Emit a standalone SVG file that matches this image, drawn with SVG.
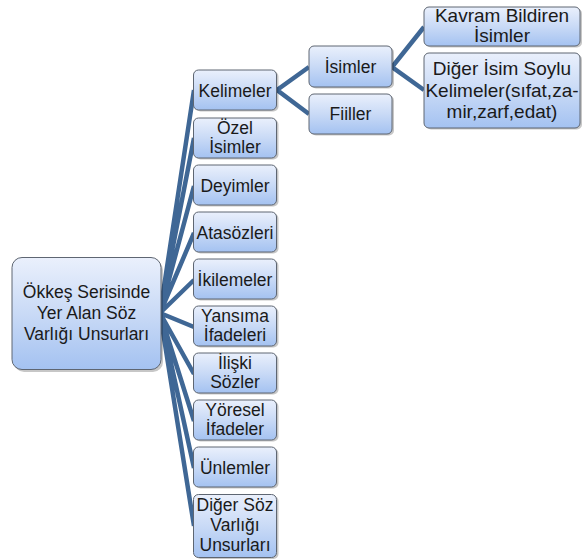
<svg xmlns="http://www.w3.org/2000/svg" width="582" height="560" viewBox="0 0 582 560">
<defs>
<linearGradient id="g" x1="0" y1="0" x2="0" y2="1">
<stop offset="0" stop-color="#EAF0FC"/>
<stop offset="0.5" stop-color="#C9DAF6"/>
<stop offset="1" stop-color="#A4C2F1"/>
</linearGradient>
<style>
.b{fill:url(#g);stroke:#5E6672;stroke-width:1}
.s{fill:#000;opacity:0.22}
.t{font-family:"Liberation Sans",Arial,sans-serif;font-size:17.5px;fill:#1a1a1a;text-anchor:middle}
.t3{font-size:19px}
.c{stroke:#3F6795;stroke-width:4.5;fill:none;stroke-linecap:butt}
</style>
</defs>
<rect width="582" height="560" fill="#fff"/>
<g id="connectors">
<path class="c" d="M160 313 L194 90 M160 313 L194 138 M160 313 L194 186 M160 313 L194 233 M160 313 L194 280 M160 313 L194 327 M160 313 L194 374 M160 313 L194 421 M160 313 L194 468 M160 313 L194 526"/>
<path class="c" d="M309 67 L277 90 L309 114"/>
<path class="c" d="M424 27 L392 67 L424 90"/>
</g>
<g id="root">
<rect class="s" x="14" y="260" width="149" height="112" rx="10"/>
<rect class="b" x="12" y="257.5" width="149" height="112" rx="10"/>
<text class="t"><tspan x="86.5" y="298">Ökkeş Serisinde</tspan><tspan x="86.5" y="319">Yer Alan Söz</tspan><tspan x="86.5" y="339.5">Varlığı Unsurları</tspan></text>
</g>
<g id="kelimeler">
<rect class="s" x="195.5" y="71.5" width="83" height="40" rx="5"/>
<rect class="b" x="193.5" y="70" width="83" height="40" rx="5"/>
<text class="t" x="235" y="96.5">Kelimeler</text>
</g>
<g id="ozel">
<rect class="s" x="195.5" y="119.5" width="83" height="40" rx="5"/>
<rect class="b" x="193.5" y="118" width="83" height="40" rx="5"/>
<text class="t"><tspan x="235" y="134">Özel</tspan><tspan x="235" y="153">İsimler</tspan></text>
</g>
<g id="deyimler">
<rect class="s" x="195.5" y="166.5" width="83" height="40" rx="5"/>
<rect class="b" x="193.5" y="165" width="83" height="40" rx="5"/>
<text class="t" x="235" y="191.5">Deyimler</text>
</g>
<g id="atasozleri">
<rect class="s" x="195.5" y="213.5" width="83" height="40" rx="5"/>
<rect class="b" x="193.5" y="212" width="83" height="40" rx="5"/>
<text class="t" x="235" y="238.5">Atasözleri</text>
</g>
<g id="ikilemeler">
<rect class="s" x="195.5" y="260.5" width="83" height="40" rx="5"/>
<rect class="b" x="193.5" y="259" width="83" height="40" rx="5"/>
<text class="t" x="235" y="285.5">İkilemeler</text>
</g>
<g id="yansima">
<rect class="s" x="195.5" y="307.5" width="83" height="40" rx="5"/>
<rect class="b" x="193.5" y="306" width="83" height="40" rx="5"/>
<text class="t"><tspan x="235" y="322">Yansıma</tspan><tspan x="235" y="341">İfadeleri</tspan></text>
</g>
<g id="iliski">
<rect class="s" x="195.5" y="354.5" width="83" height="40" rx="5"/>
<rect class="b" x="193.5" y="353" width="83" height="40" rx="5"/>
<text class="t"><tspan x="235" y="369">İlişki</tspan><tspan x="235" y="388">Sözler</tspan></text>
</g>
<g id="yoresel">
<rect class="s" x="195.5" y="401.5" width="83" height="40" rx="5"/>
<rect class="b" x="193.5" y="400" width="83" height="40" rx="5"/>
<text class="t"><tspan x="235" y="416">Yöresel</tspan><tspan x="235" y="435">İfadeler</tspan></text>
</g>
<g id="unlemler">
<rect class="s" x="195.5" y="448.5" width="83" height="40" rx="5"/>
<rect class="b" x="193.5" y="447" width="83" height="40" rx="5"/>
<text class="t" x="235" y="473.5">Ünlemler</text>
</g>
<g id="diger-soz">
<rect class="s" x="195.5" y="496" width="83" height="63" rx="5"/>
<rect class="b" x="193.5" y="494.5" width="83" height="63" rx="5"/>
<text class="t"><tspan x="235" y="511">Diğer Söz</tspan><tspan x="235" y="531">Varlığı</tspan><tspan x="235" y="551">Unsurları</tspan></text>
</g>
<g id="isimler">
<rect class="s" x="311" y="47.5" width="83" height="41" rx="5"/>
<rect class="b" x="309" y="46" width="83" height="41" rx="5"/>
<text class="t" x="350.5" y="73">İsimler</text>
</g>
<g id="fiiller">
<rect class="s" x="311" y="95.5" width="83" height="40" rx="5"/>
<rect class="b" x="309" y="94" width="83" height="40" rx="5"/>
<text class="t" x="350.5" y="120">Fiiller</text>
</g>
<g id="kavram">
<rect class="s" x="426" y="8.5" width="156" height="39" rx="5"/>
<rect class="b" x="424" y="7" width="156" height="39" rx="5"/>
<text class="t t3"><tspan x="502" y="22">Kavram Bildiren</tspan><tspan x="502" y="42">İsimler</tspan></text>
</g>
<g id="diger-isim">
<rect class="s" x="426" y="54.5" width="156" height="75" rx="5"/>
<rect class="b" x="424" y="53" width="156" height="75" rx="5"/>
<text class="t t3"><tspan x="502" y="75">Diğer İsim Soylu</tspan><tspan x="502" y="97">Kelimeler(sıfat,za-</tspan><tspan x="502" y="118">mir,zarf,edat)</tspan></text>
</g>
</svg>
